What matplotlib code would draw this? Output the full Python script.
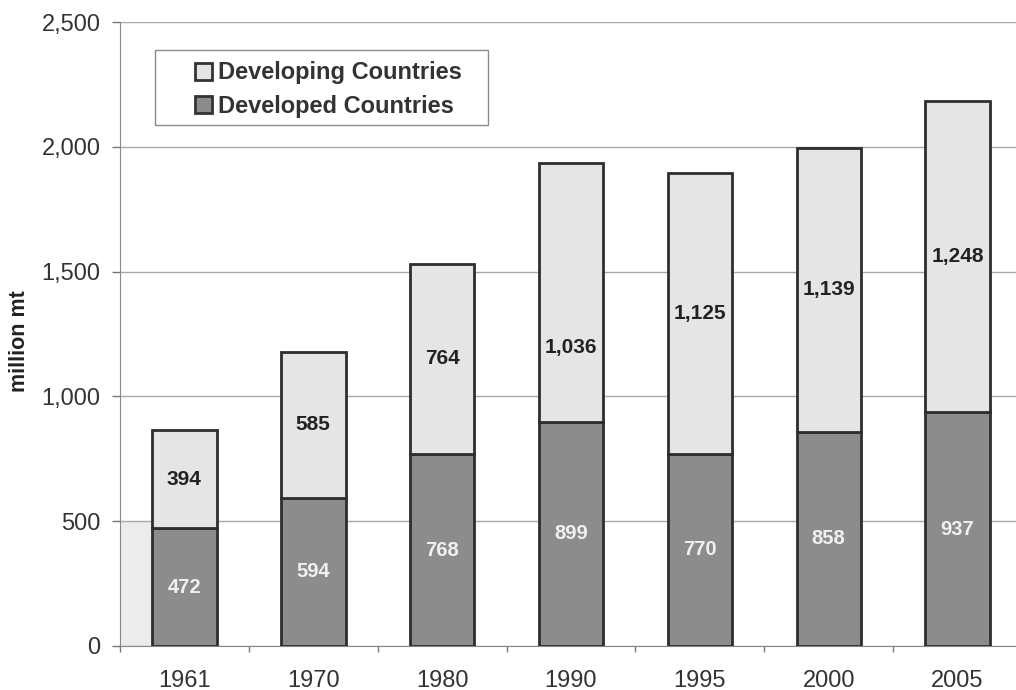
import matplotlib
matplotlib.use("Agg")
import matplotlib.pyplot as plt
from matplotlib.patches import Rectangle
import numpy as np

plt.rcParams['font.family'] = ['Liberation Sans', 'DejaVu Sans']

years = ["1961", "1970", "1980", "1990", "1995", "2000", "2005"]
developed = [472, 594, 768, 899, 770, 858, 937]
developing = [394, 585, 764, 1036, 1125, 1139, 1248]
# vertical position of the developing-country label within its segment
developing_label_pos = [0.5, 0.5, 0.5, 0.285, 0.5, 0.5, 0.5]

yticks = [0, 500, 1000, 1500, 2000, 2500]

W, H = 1016, 690
fig = plt.figure(figsize=(W / 100, H / 100), dpi=100)
ax = fig.add_axes([120 / W, 44 / H, 902 / W, 624 / H])

x = np.arange(len(years))
w = 0.5
dark_col = "#8c8c8c"
light_col = "#e5e5e5"
edge = "#2e2e2e"

# faint shaded patch at the lower left of the plot area
ax.add_patch(Rectangle((-0.5, 0), 0.245, 500, facecolor="#ececec",
                       edgecolor="none", zorder=0.5))

b1 = ax.bar(x, developed, w, color=dark_col, edgecolor=edge, linewidth=2,
            zorder=3, label="Developed Countries")
b2 = ax.bar(x, developing, w, bottom=developed, color=light_col,
            edgecolor=edge, linewidth=2, zorder=3, label="Developing Countries")

for i in range(len(years)):
    ax.text(x[i], developed[i] / 2, f"{developed[i]:,}", ha="center",
            va="center", color="#f0f0f0", fontsize=14.5, fontweight="bold",
            zorder=4)
    ax.text(x[i], developed[i] + developing[i] * developing_label_pos[i],
            f"{developing[i]:,}", ha="center", va="center", color="#222222",
            fontsize=15, fontweight="bold", zorder=4)

ax.set_xlim(-0.5, len(years) - 0.5)
ax.set_ylim(0, 2500)
ax.set_yticks(yticks)
ax.set_yticklabels([f"{v:,}" for v in yticks], fontsize=17, color="#333333")
ax.set_xticks(x)
ax.set_xticklabels(years, fontsize=17, color="#333333")
ax.set_xticks(np.arange(-0.5, len(years) + 0.5, 1), minor=True)
ax.tick_params(axis="x", which="major", length=0, pad=17)
ax.tick_params(axis="x", which="minor", length=4, color="#777777", width=1)
ax.tick_params(axis="y", length=6, color="#777777", width=1, pad=8)

ax.yaxis.grid(True, color="#a8a8a8", linewidth=1)
ax.set_axisbelow(True)
for s in ["top", "right"]:
    ax.spines[s].set_visible(False)
ax.spines["left"].set_color("#888888")
ax.spines["bottom"].set_color("#888888")

ax.set_ylabel("million mt", fontsize=15.5, fontweight="bold", color="#222222")
ax.yaxis.set_label_coords(-0.111, 0.489)
ax.yaxis.label.set_va("center")
ax.yaxis.label.set_ha("center")

# legend frame
ax.add_patch(Rectangle((155 / W, (H - 125) / H), 333 / W, 75 / H,
                       transform=fig.transFigure, facecolor="white",
                       edgecolor="#8a8a8a", linewidth=1, zorder=5,
                       clip_on=False))
leg = ax.legend([b2, b1], ["Developing Countries", "Developed Countries"],
                loc="upper left", bbox_to_anchor=(0.0831, 0.937),
                prop={"size": 17, "weight": "bold"}, frameon=False,
                handlelength=0.74, handleheight=0.74, handletextpad=0.25,
                borderpad=0, labelspacing=0.44, borderaxespad=0)
leg.set_zorder(6)
for t in leg.get_texts():
    t.set_color("#333333")
for h in leg.legend_handles:
    h.set_linewidth(2)
    h.set_edgecolor("#333333")

fig.savefig("out.png", dpi=100)
